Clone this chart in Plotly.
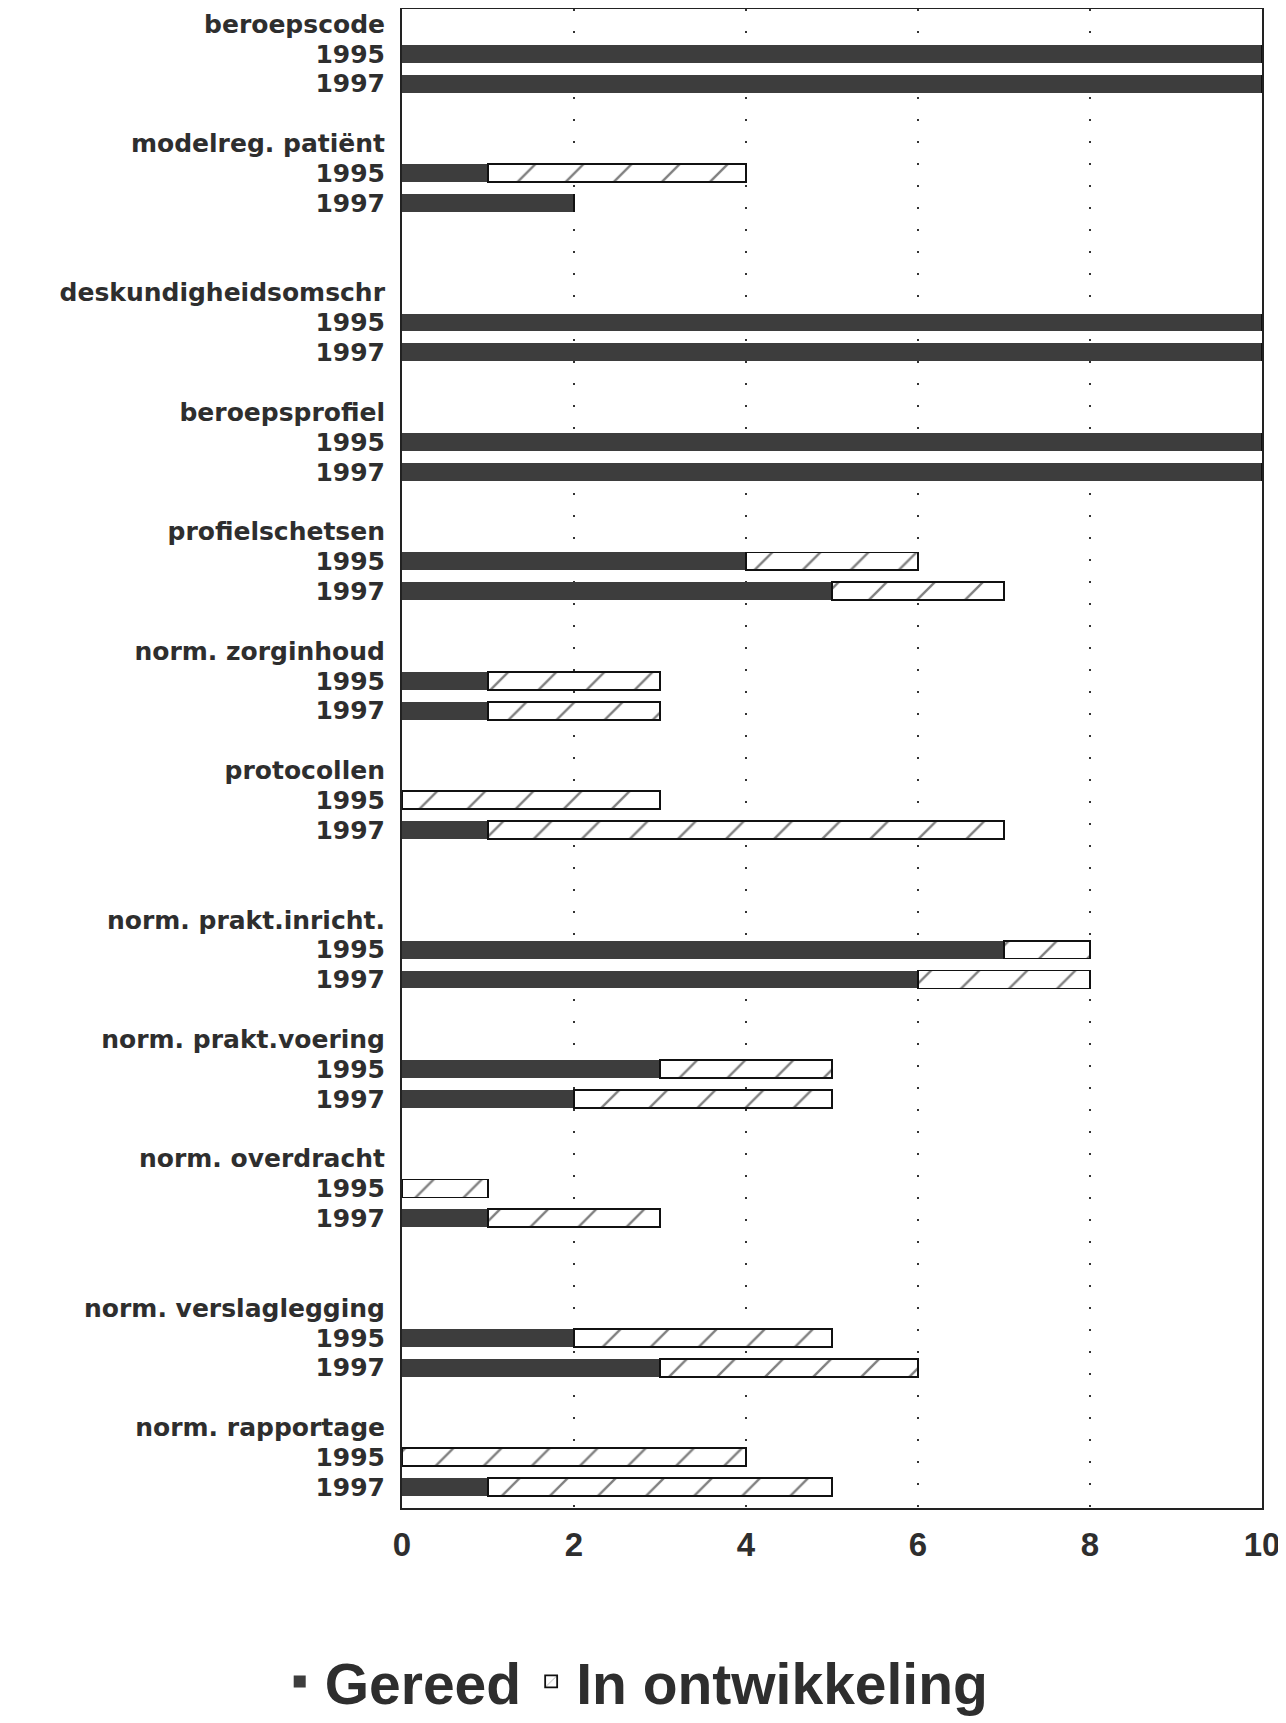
import plotly.graph_objects as go

groups = ["beroepscode", "modelreg. patiënt", "deskundigheidsomschr", "beroepsprofiel",
          "profielschetsen", "norm. zorginhoud", "protocollen", "norm. prakt.inricht.",
          "norm. prakt.voering", "norm. overdracht", "norm. verslaglegging", "norm. rapportage"]
years = ["1995", "1997"]
gereed_1995 = [10, 1, 10, 10, 4, 1, 0, 7, 3, 0, 2, 0]
ontw_1995 = [0, 3, 0, 0, 2, 2, 3, 1, 2, 1, 3, 4]
gereed_1997 = [10, 2, 10, 10, 5, 1, 1, 6, 2, 1, 3, 1]
ontw_1997 = [0, 0, 0, 0, 2, 2, 6, 2, 3, 2, 3, 4]
x_ticks = [0, 2, 4, 6, 8, 10]

# groups preceded by a wider gap in the original layout
wide_gap = {"deskundigheidsomschr", "norm. prakt.inricht.", "norm. verslaglegging"}

rows, tickvals, ticktext = [], [], []
for i, g in enumerate(groups):
    if i > 0:
        rows.append(f"sp{i}a")
        if g in wide_gap:
            rows.append(f"sp{i}b")
    rows.append(f"h|{g}")
    tickvals.append(f"h|{g}")
    ticktext.append(g)
    for yr in years:
        rid = f"{g}|{yr}"
        rows.append(rid)
        tickvals.append(rid)
        ticktext.append(yr)

bar_y, ger_x, ont_x = [], [], []
for i, g in enumerate(groups):
    bar_y += [f"{g}|1995", f"{g}|1997"]
    ger_x += [gereed_1995[i], gereed_1997[i]]
    ont_x += [ontw_1995[i], ontw_1997[i]]

dark = "#3d3d3d"
fig = go.Figure()
fig.add_trace(go.Bar(
    name="Gereed", y=bar_y, x=ger_x, orientation="h",
    marker=dict(color=dark, line=dict(width=0)),
))
fig.add_trace(go.Bar(
    name="In ontwikkeling", y=bar_y, x=ont_x, orientation="h",
    marker=dict(color="white", line=dict(color="#111", width=1.8),
                pattern=dict(shape="/", fgcolor="#000", bgcolor="white", size=34, solidity=0.07)),
))

label_family = "DejaVu Sans, Liberation Sans, Arial, sans-serif"
tick_family = "Liberation Sans, Arial, Helvetica, sans-serif"
fig.update_layout(
    width=1278, height=1715,
    barmode="stack", bargap=0.4,
    plot_bgcolor="white", paper_bgcolor="white",
    margin=dict(l=394, r=24, t=1, b=215, autoexpand=False),
    font=dict(family=tick_family, color="#2e2e2e"),
    showlegend=True,
    legend=dict(orientation="h", x=0.27, xanchor="center", y=-0.116, yanchor="middle",
                font=dict(family=tick_family, size=57, color="#2e2e2e", weight="bold"),
                itemwidth=40, traceorder="normal"),
    xaxis=dict(range=[0, 10], tickvals=x_ticks, ticktext=[str(v) for v in x_ticks],
               tickfont=dict(family=tick_family, size=33, weight="bold", color="#2e2e2e"),
               showgrid=True, gridcolor="#333", gridwidth=1.5, griddash="2px,20px",
               zeroline=False, showline=True, linecolor="#222", linewidth=2, mirror=True,
               ticks="", ticklabelstandoff=6, ticklabeloverflow="allow"),
    yaxis=dict(type="category", categoryorder="array", categoryarray=rows,
               range=[len(rows) - 0.3, -0.5],
               tickmode="array", tickvals=tickvals, ticktext=ticktext,
               tickfont=dict(family=label_family, size=25, weight="bold", color="#2e2e2e"),
               showgrid=False, zeroline=False, showline=True, linecolor="#222",
               linewidth=2, mirror=True, ticks="", ticklabelstandoff=10),
)

fig.write_html("out.html")
